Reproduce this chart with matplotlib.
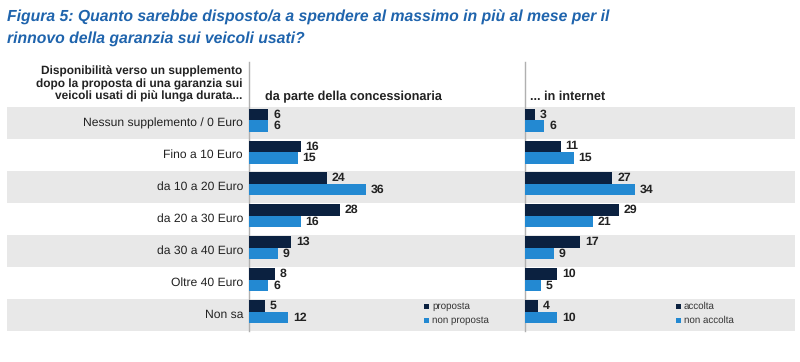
import matplotlib
matplotlib.use("Agg")
import matplotlib.pyplot as plt
from matplotlib.patches import Rectangle

# dati
categorie = ["Nessun supplemento / 0 Euro", "Fino a 10 Euro", "da 10 a 20 Euro",
             "da 20 a 30 Euro", "da 30 a 40 Euro", "Oltre 40 Euro", "Non sa"]
concess_proposta = [6, 16, 24, 28, 13, 8, 5]
concess_non_proposta = [6, 15, 36, 16, 9, 6, 12]
internet_accolta = [3, 11, 27, 29, 17, 10, 4]
internet_non_accolta = [6, 15, 34, 21, 9, 5, 10]

titolo = ("Figura 5: Quanto sarebbe disposto/a a spendere al massimo in più al mese per il\n"
          "rinnovo della garanzia sui veicoli usati?")
intestazione = ("Disponibilità verso un supplemento\n"
                "dopo la proposta di una garanzia sui\n"
                "veicoli usati di più lunga durata...")

SCURO = "#0b2140"
CHIARO = "#2389d2"
GRIGIO = "#e8e8e8"
TESTO = "#222222"

plt.rcParams['font.family'] = ['Liberation Sans', 'DejaVu Sans']
plt.rcParams['text.hinting'] = 'no_hinting'

W, H = 800, 362
fig = plt.figure(figsize=(W / 100, H / 100), dpi=100)

# sfondo in coordinate pixel
bg = fig.add_axes([0, 0, 1, 1])
bg.set_xlim(0, W)
bg.set_ylim(H, 0)
bg.axis('off')

top, bottom = 107, 330.5
riga = (bottom - top) / len(categorie)
for i in range(0, len(categorie), 2):
    bg.add_patch(Rectangle((7, top + i * riga), 788, riga, color=GRIGIO, lw=0, zorder=0))

for i, cat in enumerate(categorie):
    bg.text(243, top + (i + 0.5) * riga, cat, ha='right', va='center',
            fontsize=8.75, color=TESTO)

bg.text(7, 28, titolo, ha='left', va='center', fontsize=11.3, fontweight='bold',
        fontstyle='italic', color="#1f64ad", linespacing=1.45)
bg.text(242, 84, intestazione, ha='right', va='center', fontsize=8.6,
        fontweight='bold', color=TESTO, linespacing=1.15)
bg.text(265, 97, "da parte della concessionaria", ha='left', va='center',
        fontsize=9.1, fontweight='bold', color=TESTO)
bg.text(530, 97, "... in internet", ha='left', va='center',
        fontsize=9.1, fontweight='bold', color=TESTO)

for x in (249, 525):
    bg.plot([x, x], [62, bottom], color="#b0b0b0", lw=1, zorder=1)

px_per_unit = 3.24


def pannello(x0, x1, serie1, serie2, nomi, leg_x):
    ax = fig.add_axes([x0 / W, 1 - bottom / H, (x1 - x0) / W, (bottom - top) / H])
    ax.patch.set_alpha(0)
    ax.set_xlim(0, (x1 - x0) / px_per_unit)
    ax.set_ylim(len(categorie) - 0.5, -0.5)
    ax.axis('off')
    h = 0.36
    pos = list(range(len(categorie)))
    b1 = ax.barh([p - 0.27 for p in pos], serie1, height=h, color=SCURO, lw=0)
    b2 = ax.barh([p + 0.09 for p in pos], serie2, height=h, color=CHIARO, lw=0)
    for bars, vals in ((b1, serie1), (b2, serie2)):
        for b, v in zip(bars, vals):
            ax.text(b.get_width() + 1.5, b.get_y() + b.get_height() / 2, str(v),
                    ha='left', va='center', fontsize=8.8, fontweight='bold', color=TESTO)
    # legenda
    for k, (nome, col) in enumerate(zip(nomi, (SCURO, CHIARO))):
        y = 306.5 + k * 13.5
        bg.add_patch(Rectangle((leg_x, y - 2.5), 5, 5, color=col, lw=0, zorder=3))
        bg.text(leg_x + 8, y, nome, ha='left', va='center', fontsize=7, color="#333333")


pannello(249, 517, concess_proposta, concess_non_proposta,
         ["proposta", "non proposta"], 424)
pannello(525, 795, internet_accolta, internet_non_accolta,
         ["accolta", "non accolta"], 676)

fig.savefig("out.png", dpi=100)
